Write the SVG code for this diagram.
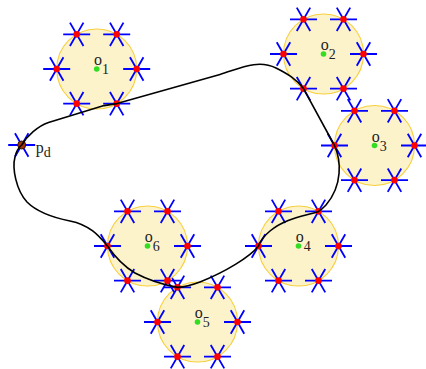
<svg xmlns="http://www.w3.org/2000/svg" xmlns:xlink="http://www.w3.org/1999/xlink" width="426" height="369" viewBox="0 0 426 369">
<style>
.disk{fill:#fcf3cb;stroke:#f7cf3c;stroke-width:1.1}
.st{stroke:#0000ff;stroke-width:1.8;fill:none}
.rd{fill:#ff0000}
.gd{fill:#33dd22}
.lb{font-family:"Liberation Serif",serif;font-size:16px;fill:#222}
.sb{font-size:14px}
.curve{fill:none;stroke:#000;stroke-width:1.6;stroke-linejoin:round}
</style>
<defs>
<path id="st" class="st" d="M-13.5 0H13.5M-6.75 -11.69L6.75 11.69M6.75 -11.69L-6.75 11.69"/>
<g id="v"><use xlink:href="#st" href="#st"/><circle class="rd" r="3.3"/></g>
<g id="hex">
<use xlink:href="#v" href="#v" x="40" y="0"/>
<use xlink:href="#v" href="#v" x="20" y="-34.64"/>
<use xlink:href="#v" href="#v" x="-20" y="-34.64"/>
<use xlink:href="#v" href="#v" x="-40" y="0"/>
<use xlink:href="#v" href="#v" x="-20" y="34.64"/>
<use xlink:href="#v" href="#v" x="20" y="34.64"/>
</g>
</defs>
<rect width="426" height="369" fill="#fff"/>
<g id="o1" transform="translate(96.7,69)">
<circle class="disk" r="40"/><use xlink:href="#hex" href="#hex"/><circle class="gd" r="2.8"/>
<text class="lb" x="-2.8" y="-4">o<tspan class="sb" x="5.2" y="5">1</tspan></text>
</g>
<g id="o2" transform="translate(323.5,54)">
<circle class="disk" r="40"/><use xlink:href="#hex" href="#hex"/><circle class="gd" r="2.8"/>
<text class="lb" x="-2.8" y="-4">o<tspan class="sb" x="5.2" y="5">2</tspan></text>
</g>
<g id="o3" transform="translate(374.5,145.5)">
<circle class="disk" r="40"/><use xlink:href="#hex" href="#hex"/><circle class="gd" r="2.8"/>
<text class="lb" x="-2.8" y="-4">o<tspan class="sb" x="5.2" y="5">3</tspan></text>
</g>
<g id="o4" transform="translate(298.5,246)">
<circle class="disk" r="40"/><use xlink:href="#hex" href="#hex"/><circle class="gd" r="2.8"/>
<text class="lb" x="-2.8" y="-4">o<tspan class="sb" x="5.2" y="5">4</tspan></text>
</g>
<g id="o5" transform="translate(197.5,322)">
<circle class="disk" r="40"/><use xlink:href="#hex" href="#hex"/><circle class="gd" r="2.8"/>
<text class="lb" x="-2.8" y="-4">o<tspan class="sb" x="5.2" y="5">5</tspan></text>
</g>
<g id="o6" transform="translate(147.5,246)">
<circle class="disk" r="40"/><use xlink:href="#hex" href="#hex"/><circle class="gd" r="2.8"/>
<text class="lb" x="-2.8" y="-4">o<tspan class="sb" x="5.2" y="5">6</tspan></text>
</g>
<g id="pd" transform="translate(21.7,145)">
<use xlink:href="#st" href="#st"/><circle r="4" fill="#a3340c" stroke="#3a1500" stroke-width="1"/>
<text class="lb" x="14" y="7.5">p<tspan class="sb" font-size="12" x="22" y="12">d</tspan></text>
</g>
<g id="connectors">
<path class="curve" d="M21.7 145 C27 136 38 126 48.5 122.5 L104 105.6 L117 103.6 L220 74.4 C240 68.3 258 59 276 68 C288 74 296 79 303.5 88.6 L334.5 145.5 C341 160 343 185 326 205 C323 208 321 210 318.5 211.4 C305 216 285 218 270 231 C264 236 260 241 258.5 246 C250 257 225 272 200 282 C192 285 184 287 177.5 287.4 C165 285 150 281 135 273 C125 267 115 257 107.5 246 C99 236 90 225 70 221 C55 218 38 213 27 202 C16 190 12 168 15 157 C16 152 18 148 21.7 145 Z"/>
</g>
</svg>
